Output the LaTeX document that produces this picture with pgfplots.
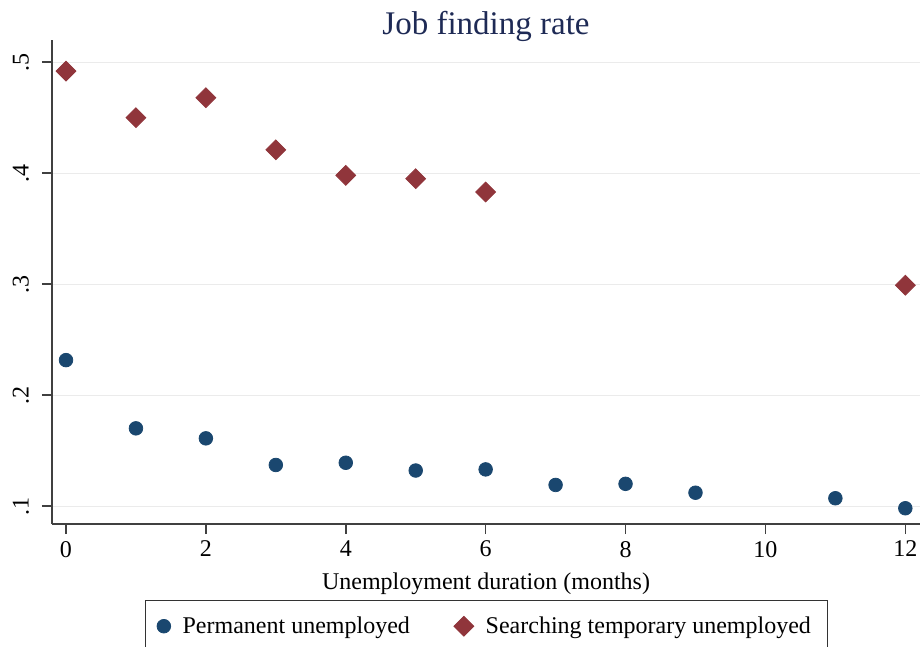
\documentclass[border=0pt]{standalone}
\usepackage{fontspec}
\setmainfont{Liberation Serif}
\usepackage{pgfplots}
\pgfplotsset{compat=1.18}
\begin{document}
\begin{tikzpicture}
    \definecolor{stnavy}{RGB}{26,71,111}
    \definecolor{stmaroon}{RGB}{144,53,59}
    \definecolor{titleblue}{RGB}{30,42,85}

    \begin{axis}[
        scale only axis,
        width=434pt, height=242pt,
        xmin=-0.2, xmax=12.21,
        ymin=0.0838, ymax=0.52,
        axis x line=bottom, axis y line=left,
        axis line style={-, thick, black!75},
        tick align=outside,
        major tick length=5pt,
        tick style={thick, black!75},
        xtick={0,2,...,12},
        ytick={0.1,0.2,0.3,0.4,0.5},
        yticklabels={.1,.2,.3,.4,.5},
        yticklabel style={rotate=90, anchor=south, yshift=3pt},
        /pgf/number format/assume math mode=true,
        ticklabel style={font=\fontsize{12}{14}\selectfont},
        ymajorgrids,
        major grid style={black!8, thin},
        xlabel={Unemployment duration (months)},
        xlabel style={font=\fontsize{12}{14}\selectfont, yshift=-1pt},
        legend columns=2,
        legend style={at={(0.5,-0.157)}, anchor=north, draw=black!80,
            font=\fontsize{12}{14}\selectfont,
            /tikz/every odd column/.append style={column sep=4pt},
            /tikz/every even column/.append style={column sep=20pt},
            inner xsep=6pt, inner ysep=6pt},
        legend cell align=left,
        clip=false
    ]
        \addplot[only marks, mark=*, mark size=3.4pt, color=stnavy] coordinates {
            (0,0.2315) (1,0.170) (2,0.161) (3,0.137) (4,0.139) (5,0.132)
            (6,0.133) (7,0.119) (8,0.120) (9,0.112) (11,0.107) (12,0.098)
        };
        \addlegendentry{Permanent unemployed}
        \addplot[only marks, mark=square*, mark size=3.5pt, mark options={rotate=45}, color=stmaroon] coordinates {
            (0,0.492) (1,0.450) (2,0.468) (3,0.421) (4,0.398) (5,0.395)
            (6,0.383) (12,0.299)
        };
        \addlegendentry{Searching temporary unemployed}
        \coordinate (sw) at (rel axis cs:0,0);
        \coordinate (ne) at (rel axis cs:1,1);
        \node[font=\fontsize{16.5}{19}\selectfont, text=titleblue, anchor=base]
            at ([yshift=2.5pt]rel axis cs:0.5,1) {Job finding rate};
    \end{axis}
    \pgfresetboundingbox
    \path[use as bounding box] ([xshift=-26pt,yshift=-61.5pt]sw) rectangle ([yshift=20pt]ne);
\end{tikzpicture}
\end{document}
